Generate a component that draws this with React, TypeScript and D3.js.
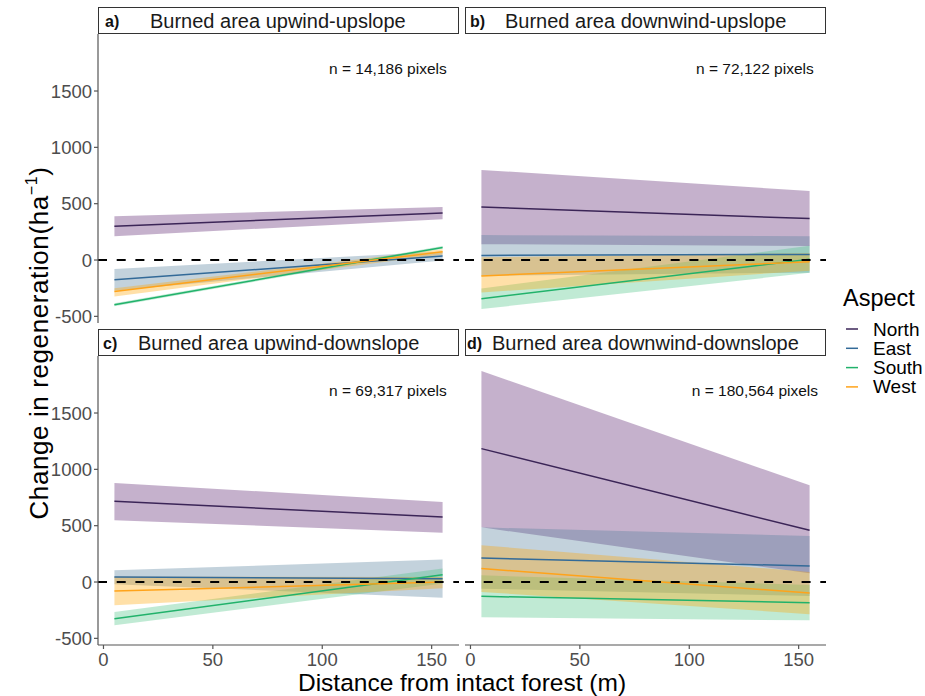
import React from "react";
import * as d3 from "d3";

const width = 925;
const height = 696;
const font = "'Liberation Sans', Arial, sans-serif";

// x positions of the fitted values (m)
const distance = [5, 155];
const aspects = ["North", "East", "South", "West"];
const lineColors = ["#3b2557", "#336a98", "#21b26b", "#ffa31a"];
const fillColors = ["#59206d", "#547e9b", "#4bc384", "#ffa606"];
const xTicks = [0, 50, 100, 150];
const yTicks = [-500, 0, 500, 1000, 1500];

// rows follow aspects order: North, East, South, West ; [at 5 m, at 155 m]
const fitA = [[300, 417], [-176, 35], [-397, 112], [-279, 73]];
const lowA = [[212, 362], [-273, -5], [-410, 100], [-324, 50]];
const highA = [[388, 470], [-79, 75], [-384, 124], [-250, 95]];

const fitB = [[470, 368], [41, 50], [-344, 6], [-141, -15]];
const lowB = [[141, 124], [-139, -112], [-435, -114], [-288, -95]];
const highB = [[800, 612], [221, 212], [-253, 126], [24, 60]];

const fitC = [[716, 577], [44, 30], [-325, 65], [-80, 0]];
const lowC = [[548, 438], [-20, -139], [-384, -14], [-207, -56]];
const highC = [[879, 710], [104, 199], [-266, 119], [47, 44]];

const fitD = [[1184, 459], [213, 142], [-127, -183], [119, -98]];
const lowD = [[485, 77], [-59, -124], [-313, -340], [-88, -285]];
const highD = [[1873, 858], [485, 408], [59, -26], [326, 90]];

const panels = [
  { label: "a)", title: "Burned area upwind-upslope", n: "n = 14,186 pixels", fit: fitA, low: lowA, high: highA, col: 0, row: 0, labelDx: 7, titleDx: 52 },
  { label: "b)", title: "Burned area downwind-upslope", n: "n = 72,122 pixels", fit: fitB, low: lowB, high: highB, col: 1, row: 0, labelDx: 5, titleDx: 40 },
  { label: "c)", title: "Burned area upwind-downslope", n: "n = 69,317 pixels", fit: fitC, low: lowC, high: highC, col: 0, row: 1, labelDx: 5, titleDx: 40 },
  { label: "d)", title: "Burned area downwind-downslope", n: "n = 180,564 pixels", fit: fitD, low: lowD, high: highD, col: 1, row: 1, labelDx: 2, titleDx: 27 },
];

const colX = [[98, 459], [465, 826]];
const rowY = [[34, 323], [356, 645]];
const stripH = 27;

function Panel({ p }) {
  const [x0, x1] = colX[p.col];
  const [y0, y1] = rowY[p.row];
  const x = d3.scaleLinear().domain([-2.5, 162.5]).range([x0, x1]);
  const y = d3.scaleLinear().domain([-559, 2006]).range([y1, y0]);

  const area = (lo, hi) =>
    d3.area<number>()
      .x((d, i) => x(distance[i]))
      .y0((d, i) => y(lo[i]))
      .y1((d, i) => y(hi[i]))(distance);
  const line = (v) =>
    d3.line<number>()
      .x((d, i) => x(distance[i]))
      .y((d, i) => y(v[i]))(distance);

  return (
    <g>
      {/* ribbons */}
      {aspects.map((a, k) => (
        <path key={"r" + a} d={area(p.low[k], p.high[k])} fill={fillColors[k]} fillOpacity={0.35} />
      ))}
      {/* fitted lines */}
      {aspects.map((a, k) => (
        <path key={"l" + a} d={line(p.fit[k])} fill="none" stroke={lineColors[k]} strokeWidth={1.5} />
      ))}
      <line x1={x0} x2={x1} y1={y(0)} y2={y(0)} stroke="#000" strokeWidth={2} strokeDasharray="9,9.7" />
      <text x={x(130)} y={y(1700)} textAnchor="middle" dominantBaseline="central" fontSize={15.5} fill="#111">
        {p.n}
      </text>

      {/* strip */}
      <rect x={x0 + 0.5} y={y0 - stripH + 0.5} width={x1 - x0 - 1} height={stripH - 1} fill="#fff" stroke="#333" strokeWidth={1} />
      <text x={x0 + p.labelDx} y={y0 - 7} fontSize={16} fontWeight="bold" fill="#111">{p.label}</text>
      <text x={x0 + p.titleDx} y={y0 - 6} fontSize={20} fill="#1a1a1a">{p.title}</text>

      {/* y axis on left column */}
      {p.col === 0 && (
        <g>
          <line x1={x0} x2={x0} y1={y0} y2={y1} stroke="#555" strokeWidth={1.2} />
          {yTicks.map((t) => (
            <g key={t}>
              <line x1={x0 - 4} x2={x0} y1={y(t)} y2={y(t)} stroke="#555" strokeWidth={1.2} />
              <text x={x0 - 6} y={y(t)} textAnchor="end" dominantBaseline="central" fontSize={18.5} fill="#4d4d4d">{t}</text>
            </g>
          ))}
        </g>
      )}
      {/* x axis on bottom row */}
      {p.row === 1 && (
        <g>
          <line x1={x0} x2={x1} y1={y1} y2={y1} stroke="#555" strokeWidth={1.2} />
          {xTicks.map((t) => (
            <g key={t}>
              <line x1={x(t)} x2={x(t)} y1={y1} y2={y1 + 4} stroke="#555" strokeWidth={1.2} />
              <text x={x(t)} y={y1 + 21} textAnchor="middle" fontSize={18.5} fill="#4d4d4d">{t}</text>
            </g>
          ))}
        </g>
      )}
    </g>
  );
}

export default function App() {
  return (
    <svg width={width} height={height} style={{ position: "absolute", left: 0, top: 0, background: "#fff", fontFamily: font }}>
      {panels.map((p) => (
        <Panel key={p.label} p={p} />
      ))}

      <text x={462} y={691} textAnchor="middle" fontSize={24.5} fill="#000">Distance from intact forest (m)</text>
      <text transform="translate(48,343) rotate(-90)" textAnchor="middle" fontSize={26} letterSpacing={0.6} fill="#000">
        Change in regeneration(ha<tspan dy={-11} fontSize={16}>−1</tspan><tspan dy={11}>)</tspan>
      </text>

      {/* legend */}
      <text x={843} y={306} fontSize={23.5} fill="#000">Aspect</text>
      {aspects.map((a, k) => {
        const cy = 329 + k * 19.3;
        return (
          <g key={a}>
            <line x1={846} x2={858} y1={cy} y2={cy} stroke={lineColors[k]} strokeWidth={1.5} />
            <text x={873} y={cy} dominantBaseline="central" fontSize={19} fill="#000">{a}</text>
          </g>
        );
      })}
    </svg>
  );
}
